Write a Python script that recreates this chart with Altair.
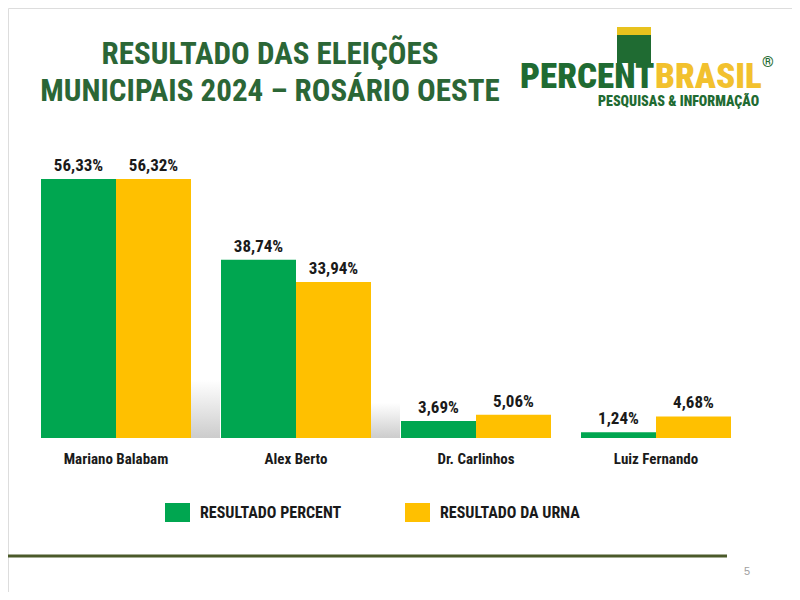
import altair as alt
import pandas as pd

candidates = ["Mariano Balabam", "Alex Berto", "Dr. Carlinhos", "Luiz Fernando"]
series = ["RESULTADO PERCENT", "RESULTADO DA URNA"]
percent_vals = [56.33, 38.74, 3.69, 1.24]
urna_vals = [56.32, 33.94, 5.06, 4.68]
colors = ["#00A650", "#FFC000"]

rows = []
for c, p, u in zip(candidates, percent_vals, urna_vals):
    rows.append({"cand": c, "serie": series[0], "v": p, "label": f"{p:.2f}%".replace(".", ",")})
    rows.append({"cand": c, "serie": series[1], "v": u, "label": f"{u:.2f}%".replace(".", ",")})
df = pd.DataFrame(rows)

FONT = "Roboto Condensed, Liberation Sans Narrow, DejaVu Sans Condensed, sans-serif"

xs = alt.X("cand:N", sort=candidates, axis=None,
           scale=alt.Scale(range=[33, 723], paddingInner=30 / 180, paddingOuter=0))
xo = alt.XOffset("serie:N", sort=series, scale=alt.Scale(paddingInner=0, paddingOuter=0))
ys = alt.Y("v:Q", axis=None, scale=alt.Scale(domain=[0, 60], range=[430, 154]))
col = alt.Color("serie:N", sort=series, scale=alt.Scale(domain=series, range=colors), legend=None)

base = alt.Chart(df)
bars = base.mark_bar().encode(x=xs, xOffset=xo, y=ys, color=col)
vlabels = base.mark_text(font=FONT, fontSize=17, fontWeight="bold", color="#1a1a1a",
                         baseline="middle", dy=-13).encode(x=xs, xOffset=xo, y=ys, text="label:N")

cat_df = pd.DataFrame({"cand": candidates})
cats = alt.Chart(cat_df).mark_text(font=FONT, fontSize=15, fontWeight="bold", color="#1a1a1a",
                                   baseline="middle").encode(x=xs, y=alt.value(451), text="cand:N")

one = pd.DataFrame({"a": [0]})

def txt(t, x, y, size, color, weight="bold", align="center", font=FONT):
    return alt.Chart(one).mark_text(text=t, font=font, fontSize=size, fontWeight=weight,
                                    color=color, align=align, baseline="middle").encode(
        x=alt.value(x), y=alt.value(y))

def rect(x, x2, y, y2, color, **kw):
    return alt.Chart(one).mark_rect(color=color, **kw).encode(
        x=alt.value(x), x2=alt.value(x2), y=alt.value(y), y2=alt.value(y2))

shade = alt.Gradient(gradient="linear", x1=0, y1=0, x2=0, y2=1,
                     stops=[alt.GradientStop(color="#ffffff", offset=0),
                            alt.GradientStop(color="#cccccc", offset=1)])
shadows = [
    rect(182, 212, 372, 430, shade),
    rect(362, 392, 395, 430, shade),
]

title_color = "#2B6636"
title1 = txt("RESULTADO DAS ELEIÇÕES", 262, 47, 31, title_color)
title2 = txt("MUNICIPAIS 2024 – ROSÁRIO OESTE", 262, 84, 31, title_color)

# logo
logo = [
    rect(609, 643, 19, 27, "#E8C21E"),
    rect(609, 643, 27, 55, "#1F6B32"),
    txt("PERCENT", 512, 69, 35, "#1F6B32", weight=900, align="left"),
    txt("BRASIL", 647, 69, 35, "#F2C12E", weight=900, align="left"),
    txt("®", 754, 54, 15, "#1F6B32", weight="bold", align="left"),
    txt("PESQUISAS & INFORMAÇÃO", 590, 94, 14, "#1F6B32", weight=900, align="left"),
]

legend = [
    rect(157, 182, 495, 514, colors[0]),
    txt(series[0], 192, 505, 16, "#1a1a1a", align="left"),
    rect(397, 422, 495, 514, colors[1]),
    txt(series[1], 432, 505, 16, "#1a1a1a", align="left"),
]

line = alt.Chart(one).mark_rule(color="#4B5A2A", strokeWidth=3).encode(
    x=alt.value(-8), x2=alt.value(719), y=alt.value(548))
pagenum = txt("5", 739, 564, 11, "#A0A0A0", weight="normal", align="center", font="Liberation Sans")

chart = alt.layer(*shadows, bars, vlabels, cats, title1, title2, *logo, *legend, line, pagenum).properties(
    width=784, height=584, autosize=alt.AutoSizeParams(type="none"), padding=0
).configure_view(stroke=None).configure(background="white")

chart.save("out.html", embed_options={"renderer": "svg", "actions": False})
